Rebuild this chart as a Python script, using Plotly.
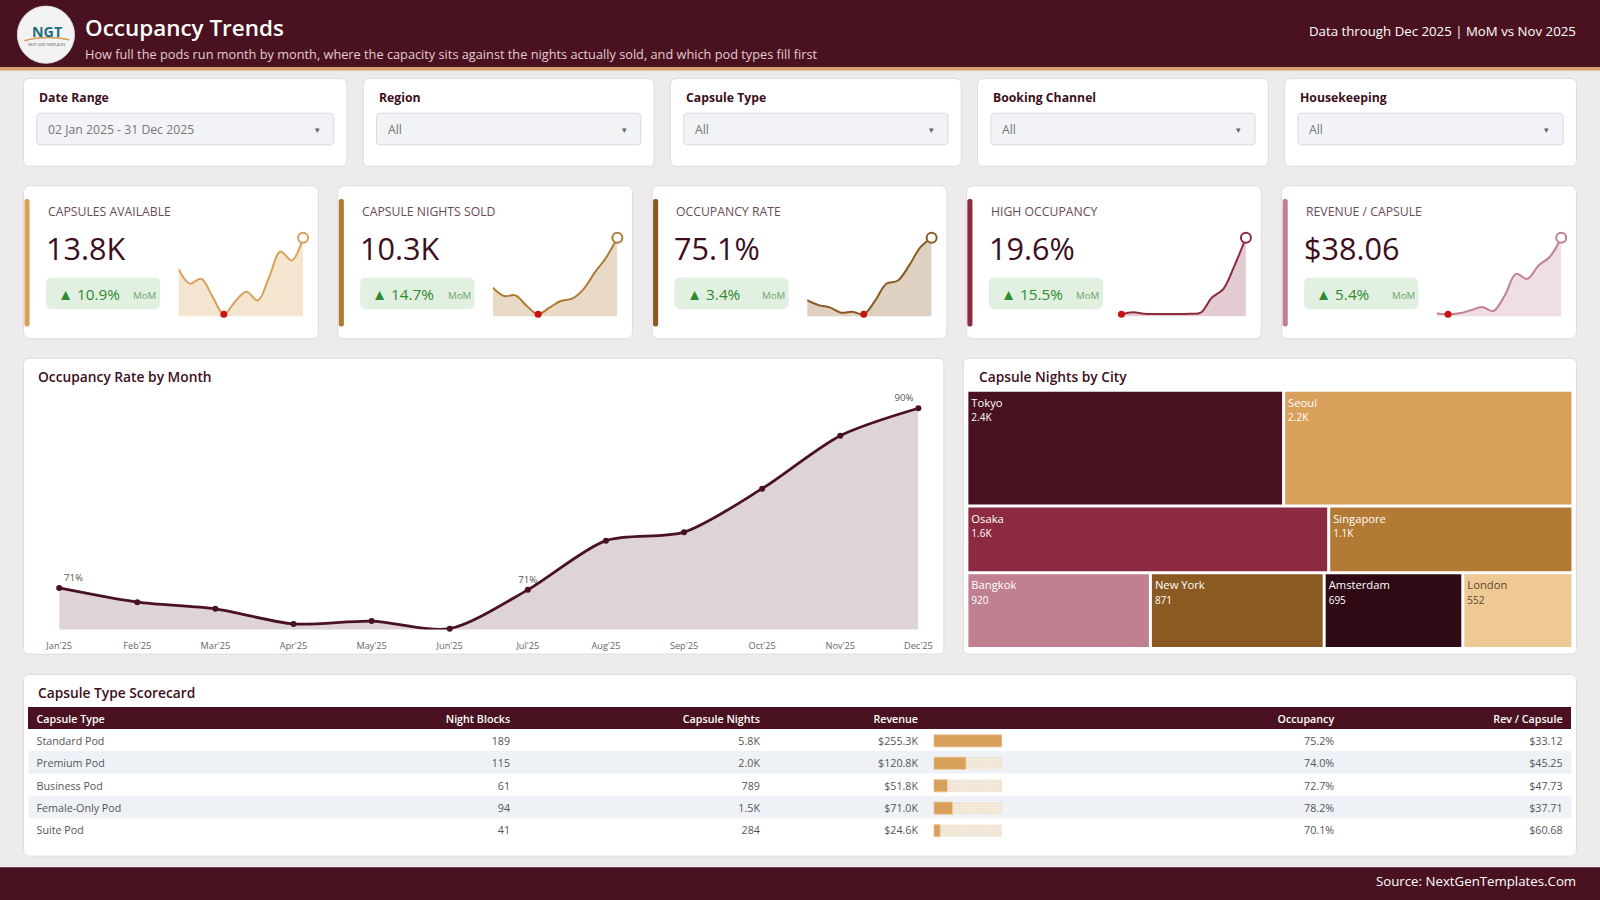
import plotly.graph_objects as go

# layout was measured on the 1568x882 reference, scaled to 1600x900 here
W, H = 1568, 882
S = 1600 / W
FONT = "Segoe UI, Open Sans, sans-serif"

MAROON = "#4a1220"
INK = "#3d0f1c"
BG = "#eeebec"

# ---- data ----
months = ["Jan'25", "Feb'25", "Mar'25", "Apr'25", "May'25", "Jun'25",
          "Jul'25", "Aug'25", "Sep'25", "Oct'25", "Nov'25", "Dec'25"]
occupancy = [71.0, 69.5, 68.8, 67.2, 67.5, 66.7, 70.8, 76.0, 76.9, 81.5, 87.1, 90.0]

kpi_titles = ["CAPSULES AVAILABLE", "CAPSULE NIGHTS SOLD", "OCCUPANCY RATE",
              "HIGH OCCUPANCY", "REVENUE / CAPSULE"]
kpi_values = ["13.8K", "10.3K", "75.1%", "19.6%", "$38.06"]
kpi_mom = [10.9, 14.7, 3.4, 15.5, 5.4]
spark_available = [11920, 11050, 11340, 10270, 9210, 9980, 10560, 10040, 11430, 12980, 12440, 13800]
spark_sold = [7000, 6450, 6490, 5790, 5240, 5680, 6120, 6270, 6890, 7990, 8980, 10300]
spark_occupancy = occupancy
spark_high = [12.30, 12.50, 12.36, 12.33, 12.33, 12.33, 12.36, 12.45, 13.90, 14.70, 16.97, 19.60]
spark_revenue = [30.26, 30.19, 30.29, 30.60, 30.95, 30.53, 32.10, 34.35, 33.83, 35.22, 36.11, 38.06]

cities = ["Tokyo", "Seoul", "Osaka", "Singapore", "Bangkok", "New York", "Amsterdam", "London"]
city_nights = [2430, 2220, 1600, 1080, 920, 871, 695, 552]

filter_labels = ["Date Range", "Region", "Capsule Type", "Booking Channel", "Housekeeping"]
filter_values = ["02 Jan 2025 - 31 Dec 2025", "All", "All", "All", "All"]

pod_types = ["Standard Pod", "Premium Pod", "Business Pod", "Female-Only Pod", "Suite Pod"]
night_blocks = [189, 115, 61, 94, 41]
capsule_nights = [5800, 2000, 789, 1500, 284]
revenue_k = [255.3, 120.8, 51.8, 71.0, 24.6]
pod_occupancy = [75.2, 74.0, 72.7, 78.2, 70.1]
rev_per_capsule = [33.12, 45.25, 47.73, 37.71, 60.68]


def fx(x):
    return x / W


def fy(y):
    return 1 - y / H


def kfmt(v):
    return f"{v / 1000:.1f}K" if v >= 1000 else f"{v}"


shapes = []
annotations = []


def box(x0, y0, x1, y1, fill, line=None, r=0, lw=1):
    ln = dict(color=line, width=lw) if line else dict(width=0)
    if r == 0:
        shapes.append(dict(type="rect", xref="paper", yref="paper", x0=fx(x0), x1=fx(x1),
                           y0=fy(y1), y1=fy(y0), fillcolor=fill, line=ln, layer="below"))
        return
    p = lambda x, y: f"{fx(x):.5f},{fy(y):.5f}"
    d = (f"M{p(x0 + r, y0)} L{p(x1 - r, y0)} Q{p(x1, y0)} {p(x1, y0 + r)} "
         f"L{p(x1, y1 - r)} Q{p(x1, y1)} {p(x1 - r, y1)} L{p(x0 + r, y1)} "
         f"Q{p(x0, y1)} {p(x0, y1 - r)} L{p(x0, y0 + r)} Q{p(x0, y0)} {p(x0 + r, y0)} Z")
    shapes.append(dict(type="path", xref="paper", yref="paper", path=d,
                       fillcolor=fill, line=ln, layer="below"))


def note(x, y, s, size, color, anchor="left", weight="normal"):
    annotations.append(dict(x=fx(x), y=fy(y), xref="paper", yref="paper", text=s,
                            showarrow=False, xanchor=anchor, yanchor="middle",
                            font=dict(size=size * S, color=color, family=FONT, weight=weight)))


fig = go.Figure()

# ---- header / footer ----
box(0, 0, W, 66, MAROON)
box(0, 66, W, 69, "#d4a06a")
box(0, 850, W, H, MAROON)
shapes.append(dict(type="circle", xref="paper", yref="paper", x0=fx(17), x1=fx(73),
                   y0=fy(62), y1=fy(6), fillcolor="#f3f3f3", line=dict(color="#d9d9d9", width=1)))
note(46, 31, "<b>NGT</b>", 14, "#1c6f7d", anchor="center")
note(46, 44, "NEXT GEN TEMPLATES", 3.5, "#555", anchor="center")
shapes.append(dict(type="path", xref="paper", yref="paper", line=dict(color="#d49a4e", width=1.5),
                   path=f"M{fx(24):.5f},{fy(40):.5f} Q{fx(44):.5f},{fy(34):.5f} {fx(68):.5f},{fy(39):.5f}"))
note(81, 27, "Occupancy Trends", 22, "white", weight=600)
note(81, 53, "How full the pods run month by month, where the capacity sits against the nights "
     "actually sold, and which pod types fill first", 12.5, "#e4cbd1")
note(1546, 30, "Data through Dec 2025 | MoM vs Nov 2025", 13, "white", anchor="right")
note(1546, 863, "Source: NextGenTemplates.Com", 13, "white", anchor="right")

# ---- filter cards ----
filter_x = [(23, 340), (356, 641), (657, 942), (958, 1243), (1259, 1545)]
for (x0, x1), lab, val in zip(filter_x, filter_labels, filter_values):
    box(x0, 77, x1, 163, "white", "#e0dcdd", r=6)
    note(x0 + 13, 96, lab, 12, INK, weight="bold")
    box(x0 + 13, 111, x1 - 13, 142, "#f1f3f6", "#d5d9de", r=4)
    note(x0 + 22, 127, val, 12, "#777")
    note(x1 - 29, 127, "▾", 9, "#666", anchor="center")

# ---- KPI cards ----
kpi_x = [23, 331, 639, 947, 1256]
spark_series = [spark_available, spark_sold, spark_occupancy, spark_high, spark_revenue]
spark_colors = ["#d9a05b", "#b07a35", "#8a5a22", "#8b2a40", "#c08090"]
spark_fills = ["rgba(217,160,91,0.28)", "rgba(176,122,53,0.28)", "rgba(138,90,34,0.28)",
               "rgba(139,42,64,0.24)", "rgba(192,128,144,0.26)"]
layout_axes = {}
for i, x0 in enumerate(kpi_x):
    x1 = x0 + 289
    box(x0, 182, x1, 332, "white", "#e0dcdd", r=7)
    box(x0 + 1, 195, x0 + 6, 320, spark_colors[i], r=2)
    note(x0 + 22, 207, kpi_titles[i], 12, "#6b4a55")
    note(x0 + 20, 243, kpi_values[i], 30, INK)
    box(x0 + 22, 272, x0 + 134, 303, "#e2f0e2", r=6)
    note(x0 + 32, 288, f"▲ {kpi_mom[i]}%", 15, "#2e8b2e")
    note(x0 + 119, 290, "MoM", 9.5, "#6aa56a", anchor="center")

    vals = spark_series[i]
    lo, hi = min(vals), max(vals)
    per = 75 / (hi - lo)
    n = i + 2
    xa, ya = f"x{n}", f"y{n}"
    idx = list(range(len(vals)))
    imin = vals.index(lo)
    fig.add_trace(go.Scatter(x=idx, y=vals, xaxis=xa, yaxis=ya, mode="lines",
                             line=dict(color=spark_colors[i], width=2, shape="spline", smoothing=1),
                             fill="tozeroy", fillcolor=spark_fills[i], hoverinfo="skip"))
    fig.add_trace(go.Scatter(x=[imin], y=[lo], xaxis=xa, yaxis=ya, mode="markers", cliponaxis=False,
                             marker=dict(color="#cc1111", size=7), hoverinfo="skip"))
    fig.add_trace(go.Scatter(x=[idx[-1]], y=[vals[-1]], xaxis=xa, yaxis=ya, mode="markers",
                             cliponaxis=False, hoverinfo="skip",
                             marker=dict(color="white", size=10, line=dict(color=spark_colors[i], width=2))))
    layout_axes[f"xaxis{n}"] = dict(domain=[fx(x0 + 152), fx(x0 + 274)], range=[0, 11], visible=False,
                                    anchor=ya)
    layout_axes[f"yaxis{n}"] = dict(domain=[fy(310), fy(228)], range=[lo - 2 / per, hi + 5 / per],
                                    visible=False, anchor=xa)

# ---- occupancy rate by month ----
box(23, 351, 925, 641, "white", "#e0dcdd", r=6)
note(35, 369, "Occupancy Rate by Month", 13.5, INK, weight=600)
label_idx = {0: "top right", 6: "top center", 11: "top left"}
fig.add_trace(go.Scatter(
    x=list(range(12)), y=occupancy, mode="lines+markers+text", cliponaxis=False,
    line=dict(color=MAROON, width=2.8, shape="spline", smoothing=0.8),
    marker=dict(color=MAROON, size=6),
    fill="tozeroy", fillcolor="rgba(74,18,32,0.18)",
    text=[f"{v:.0f}%" if i in label_idx else "" for i, v in enumerate(occupancy)],
    textposition=[label_idx.get(i, "top center") for i in range(12)],
    textfont=dict(size=9.5 * S, color="#555", family=FONT),
    hovertemplate="%{y:.1f}%<extra></extra>"))
ppu = 216 / (occupancy[-1] - min(occupancy))
y_lo = min(occupancy) - 0.1
layout_axes["xaxis"] = dict(domain=[fx(58), fx(900)], range=[0, 11], tickvals=list(range(12)),
                            ticktext=months, showgrid=False, zeroline=False, showline=False,
                            automargin=False, ticks="outside", ticklen=7, tickcolor="rgba(0,0,0,0)",
                            tickfont=dict(size=9 * S, color="#666", family=FONT), anchor="y")
layout_axes["yaxis"] = dict(domain=[fy(617), fy(385)], range=[y_lo, y_lo + 232 / ppu],
                            visible=False, anchor="x")

# ---- capsule nights by city (treemap) ----
box(944, 351, 1545, 641, "white", "#e0dcdd", r=6)
note(957, 369, "Capsule Nights by City", 13.5, INK, weight=600)
tile_colors = ["#4a1220", "#d9a05b", "#8b2a40", "#b37a35", "#c08090", "#8a5a22", "#2e0a14", "#efc994"]
tile_text = ["white"] * 7 + ["#5a4636"]
row_of = [0, 0, 1, 1, 2, 2, 2, 2]  # tile rows as drawn in the reference
row_ids = ["row1", "row2", "row3"]
row_vals = [sum(v for v, r in zip(city_nights, row_of) if r == k) for k in range(3)]
fig.add_trace(go.Treemap(
    ids=row_ids + cities,
    labels=[" "] * 3 + cities,
    parents=[""] * 3 + [row_ids[r] for r in row_of],
    values=row_vals + city_nights,
    branchvalues="total", sort=False,
    customdata=[""] * 3 + [kfmt(v) for v in city_nights],
    texttemplate=[""] * 3 + ["%{label}<br><span style='font-size:10px'>%{customdata}</span>"] * 8,
    textposition="top left",
    textfont=dict(size=11 * S, family=FONT, color=["white"] * 3 + tile_text),
    marker=dict(colors=["white"] * 3 + tile_colors, line=dict(width=0),
                pad=dict(t=0, l=0, r=0, b=0)),
    tiling=dict(packing="dice-slice", pad=3),
    pathbar=dict(visible=False), root=dict(color="white"),
    domain=dict(x=[fx(949), fx(1540)], y=[fy(634), fy(384)]),
    hovertemplate="%{label}: %{value}<extra></extra>"))

# ---- capsule type scorecard ----
box(23, 661, 1545, 839, "white", "#e0dcdd", r=6)
note(35, 679, "Capsule Type Scorecard", 13.5, INK, weight=600)
# striped row bands sit under a transparent table so the revenue bars show through
for k in (1, 3):
    box(28, 714 + 22 * k, 1540, 736 + 22 * k, "#eef2f6")
cols = [pod_types, [str(v) for v in night_blocks], [kfmt(v) for v in capsule_nights],
        [f"${v:.1f}K" for v in revenue_k], [""] * 5, [f"{v:.1f}%" for v in pod_occupancy],
        [f"${v:.2f}" for v in rev_per_capsule]]
aligns = ["left", "right", "right", "right", "right", "right", "right"]
fig.add_trace(go.Table(
    domain=dict(x=[fx(28), fx(1540)], y=[fy(835), fy(693)]),
    columnwidth=[272, 208, 245, 155, 192, 216, 224],
    header=dict(values=["Capsule Type", "Night Blocks", "Capsule Nights", "Revenue", "",
                        "Occupancy", "Rev / Capsule"],
                fill_color=MAROON, align=aligns, height=21 * S, line=dict(width=1, color=MAROON),
                font=dict(color="white", size=10.5 * S, family=FONT, weight=600)),
    cells=dict(values=cols, fill_color="rgba(0,0,0,0)", align=aligns, height=22 * S,
               line=dict(width=1, color="rgba(0,0,0,0)"),
               font=dict(color="#555", size=10.5 * S, family=FONT))))
fig.add_trace(go.Bar(
    x=[max(revenue_k)] * 5, y=pod_types, orientation="h", xaxis="x7", yaxis="y7", width=0.55,
    marker=dict(color="#f9f3ea", line=dict(width=0),
                pattern=dict(shape=".", fgcolor="#dcc6a6", size=3, solidity=0.5)),
    hoverinfo="skip"))
fig.add_trace(go.Bar(
    x=revenue_k, y=pod_types, orientation="h", xaxis="x7", yaxis="y7", width=0.55,
    marker=dict(color="#d9a05b", line=dict(color="#ecd0a8", width=1)),
    hovertemplate="%{y}: $%{x}K<extra></extra>"))
layout_axes["xaxis7"] = dict(domain=[fx(915), fx(982)], range=[0, max(revenue_k)], visible=False,
                             anchor="y7")
layout_axes["yaxis7"] = dict(domain=[fy(825), fy(715)], autorange="reversed", visible=False,
                             anchor="x7", type="category")

fig.update_layout(
    width=1600, height=900, margin=dict(l=0, r=0, t=0, b=0, pad=0, autoexpand=False),
    paper_bgcolor=BG, plot_bgcolor="rgba(0,0,0,0)", showlegend=False, barmode="overlay",
    font=dict(family=FONT), shapes=shapes, annotations=annotations, **layout_axes)

# drop the default page margin so the 1600x900 figure fills the window exactly
fit_page = ("document.documentElement.style.overflow='hidden';"
            "document.body.style.margin='0';document.body.style.overflow='hidden';"
            "Plotly.Plots.resize(document.getElementById('{plot_id}'));")
fig.write_html("out.html", post_script=fit_page, config={"displayModeBar": False})
